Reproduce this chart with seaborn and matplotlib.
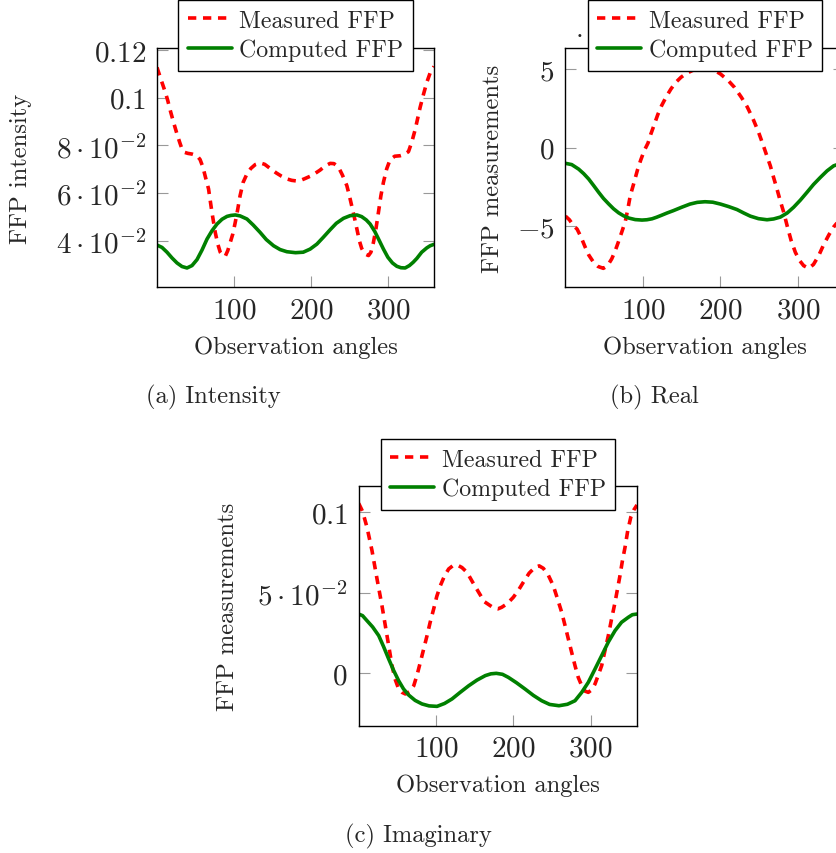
import matplotlib
matplotlib.use("Agg")
import matplotlib.pyplot as plt
import seaborn as sns

# ---------------- data ----------------
# (a) Intensity
a_meas_x = [0, 5, 10.8, 14, 17.3, 21.5, 26, 29.5, 32.5, 36, 40, 45.5, 52, 56, 59.7, 63, 67, 71.4,
            75.7, 79, 82.2, 85.5, 88.7, 92, 95.2, 98.5, 101.7, 105, 108, 112, 116.9, 122, 127.7,
            134, 140, 147, 155, 162, 168.8, 175, 182, 186, 192, 199, 205, 212, 218, 225, 230,
            235.9, 241, 246.7, 250, 253, 256.5, 259.8, 263, 266, 270, 274.9, 278, 281.3, 284.5,
            287.8, 291, 294.3, 298.5, 303, 309, 316, 321, 326.8, 331, 335.5, 342, 346.5, 350.6,
            355, 360]
a_meas_y = [0.1127, 0.1078, 0.1023, 0.0988, 0.0946, 0.0897, 0.0848, 0.0813, 0.0785, 0.0771,
            0.0767, 0.0764, 0.0757, 0.0741, 0.0709, 0.0667, 0.0618, 0.052, 0.0436, 0.0387, 0.0353,
            0.0339, 0.0336, 0.036, 0.0394, 0.0429, 0.0478, 0.0534, 0.059, 0.0646, 0.0681, 0.0704,
            0.072, 0.0727, 0.0721, 0.0704, 0.0685, 0.0671, 0.066, 0.0654, 0.0651, 0.0653, 0.0661,
            0.0671, 0.0682, 0.0697, 0.0713, 0.0725, 0.0724, 0.0709, 0.0676, 0.0632, 0.059, 0.0548,
            0.0499, 0.045, 0.0401, 0.0369, 0.0346, 0.0339, 0.0353, 0.0394, 0.045, 0.052, 0.059,
            0.0646, 0.0702, 0.0741, 0.0755, 0.0757, 0.0762, 0.0774, 0.0813, 0.0866, 0.096, 0.1016,
            0.1064, 0.1104, 0.1131]
a_comp_x = [0, 6.5, 13, 19.5, 26, 32.5, 39, 45.5, 52, 58.5, 65, 71.5, 78, 84.5, 91, 96, 101.7,
            108, 116.9, 125, 134, 142, 151.5, 160, 168.8, 180, 190, 199, 207.8, 216, 225, 233,
            242.4, 251, 259.8, 266, 272, 277, 283, 289, 294.3, 300, 306, 311.7, 317, 322.5, 328,
            333, 337.7, 344, 350.6, 355, 360]
a_comp_y = [0.0383, 0.0373, 0.0353, 0.0329, 0.0308, 0.0293, 0.0287, 0.0297, 0.0322, 0.0362,
            0.0408, 0.0443, 0.0471, 0.0491, 0.0503, 0.0507, 0.0509, 0.0505, 0.0492, 0.0467,
            0.0436, 0.0406, 0.038, 0.0364, 0.0355, 0.0351, 0.0353, 0.0366, 0.0387, 0.0415,
            0.0447, 0.0474, 0.0495, 0.0506, 0.0509, 0.0502, 0.0488, 0.0471, 0.044, 0.0401,
            0.0366, 0.0332, 0.0308, 0.0294, 0.0288, 0.0287, 0.0297, 0.0311, 0.0327, 0.0353,
            0.0371, 0.038, 0.0386]

# (b) Real
b_meas_x = [0, 5, 10, 15, 20, 25, 30, 36, 42, 48.8, 54, 59.6, 64, 68, 72.5, 77.2, 80.5, 83.6, 88,
            93, 97, 101.5, 106.5, 110, 114, 119, 124, 130, 136, 142, 149, 156, 164, 172, 180, 186,
            193, 200, 210, 218, 227, 234.5, 242, 249, 255.5, 260, 264.3, 268.5, 272.9, 277, 281.5,
            285.8, 291, 296.6, 302, 307.3, 313.8, 320, 326.7, 333, 340, 346, 353, 360]
b_meas_y = [-4.37, -4.6, -4.95, -5.2, -5.7, -6.3, -6.85, -7.3, -7.58, -7.70, -7.55, -7.1, -6.6,
            -6.05, -5.4, -4.7, -3.9, -3.06, -2.3, -1.4, -0.8, -0.2, 0.3, 0.85, 1.4, 2.1, 2.68, 3.25,
            3.74, 4.15, 4.49, 4.74, 4.93, 5.03, 5.06, 5.03, 4.91, 4.7, 4.28, 3.85, 3.21, 2.6, 1.83,
            1.0, 0.1, -0.55, -1.16, -1.9, -2.64, -3.38, -4.11, -4.95, -5.9, -6.68, -7.2, -7.53,
            -7.70, -7.45, -6.89, -6.2, -5.55, -5.06, -4.65, -4.37]
b_comp_x = [0, 8, 17, 23.5, 29.9, 36.5, 42.8, 49, 55.7, 62, 68.6, 75, 81.5, 90, 98.7, 105, 111.6,
            117.5, 123.6, 131, 139.1, 150, 160.6, 170, 180, 190, 200, 210.5, 221.3, 230, 238.5,
            249, 260, 268.5, 277.2, 286, 294.4, 303, 311.6, 320, 328.8, 337.5, 346, 353, 360]
b_comp_y = [-1.0, -1.08, -1.37, -1.66, -2.0, -2.43, -2.85, -3.24, -3.59, -3.9, -4.16, -4.35, -4.49,
            -4.59, -4.62, -4.6, -4.54, -4.44, -4.32, -4.17, -4.02, -3.8, -3.6, -3.49, -3.45, -3.48,
            -3.6, -3.76, -3.95, -4.17, -4.37, -4.53, -4.6, -4.55, -4.43, -4.17, -3.8, -3.35, -2.85,
            -2.35, -1.9, -1.48, -1.16, -1.04, -1.0]

# (c) Imaginary
c_meas_x = [0, 5, 10.7, 17.2, 23.7, 30.1, 36.6, 43.1, 47, 51.7, 56, 60.3, 65.5, 71.2, 75.5, 79.7,
            84, 88.4, 92.5, 97, 101, 105.6, 111, 116.4, 121.5, 127.2, 133.5, 140.1, 147.5, 155.2,
            162.5, 170.2, 175, 180, 185, 192, 200, 206.5, 212.9, 220.5, 228, 233.5, 238.8, 245,
            251.7, 257, 262.6, 267, 271.2, 275.5, 279.8, 284, 288.5, 292.5, 297, 301.5, 305.7, 310,
            314.3, 318.5, 322.9, 327, 331.6, 338, 341, 344.5, 348, 352, 356, 360]
c_meas_y = [0.1055, 0.1005, 0.0907, 0.0762, 0.0586, 0.042, 0.0234, 0.0048, -0.0035, -0.0097,
            -0.0118, -0.0128, -0.0115, -0.0077, -0.001, 0.0068, 0.015, 0.0234, 0.0318, 0.04, 0.0478,
            0.0544, 0.0605, 0.0648, 0.0667, 0.0673, 0.0657, 0.0627, 0.0565, 0.0503, 0.0445, 0.042,
            0.0405, 0.040, 0.041, 0.0432, 0.0472, 0.0515, 0.0565, 0.0622, 0.0658, 0.0667, 0.0652,
            0.0612, 0.0544, 0.0465, 0.0379, 0.0295, 0.0213, 0.013, 0.0048, -0.0025, -0.0077,
            -0.011, -0.0118, -0.0102, -0.0066, -0.001, 0.0048, 0.014, 0.0234, 0.0335, 0.0441,
            0.0607, 0.0695, 0.0782, 0.0885, 0.097, 0.1015, 0.1045]
c_comp_x = [0, 5, 10.7, 18, 25.9, 32, 38.8, 45, 51.7, 58, 64.7, 73, 81.9, 91, 101.3, 111, 120.7,
            131, 142.3, 153, 163.8, 171, 178, 186, 193.6, 204, 215.1, 226, 236.7, 247, 259, 270,
            279.8, 288.5, 297, 305.5, 314.3, 323, 331.6, 340, 348.8, 354, 360]
c_comp_y = [0.0368, 0.0358, 0.0327, 0.0288, 0.0234, 0.0168, 0.0089, 0.002, -0.0046, -0.0097,
            -0.0135, -0.0168, -0.019, -0.0202, -0.0205, -0.0187, -0.0159, -0.0119, -0.0077,
            -0.0042, -0.0014, -0.0003, 0.0, -0.0006, -0.0025, -0.0058, -0.0097, -0.0137, -0.017,
            -0.0193, -0.0201, -0.0192, -0.017, -0.0118, -0.0056, 0.0025, 0.011, 0.0195, 0.0265,
            0.0317, 0.0348, 0.0364, 0.0368]

series_labels = ["Measured FFP", "Computed FFP"]
x_ticks = [100, 200, 300]
a_yticks = [0.04, 0.06, 0.08, 0.10, 0.12]
a_yticklabels = [r"$4\cdot10^{-2}$", r"$6\cdot10^{-2}$", r"$8\cdot10^{-2}$", r"$0.1$", r"$0.12$"]
b_yticks = [-5, 0, 5]
b_yticklabels = [r"$-5$", r"$0$", r"$5$"]
c_yticks = [0, 0.05, 0.1]
c_yticklabels = [r"$0$", r"$5\cdot10^{-2}$", r"$0.1$"]
x_label = "Observation angles"
captions = ["(a) Intensity", "(b) Real", "(c) Imaginary"]

# ---------------- style ----------------
sns.set_style("ticks")
plt.rcParams.update({
    "font.family": "serif",
    "font.serif": ["cmr10", "DejaVu Serif"],
    "mathtext.fontset": "cm",
    "axes.unicode_minus": False,
})

W, H = 837, 854
fig = plt.figure(figsize=(W / 100, H / 100), dpi=100)
TXT = 17.7
LEG = 17.2


def frac_box(l, t, r, b):
    return [l / W, 1 - b / H, (r - l) / W, (b - t) / H]


panels = [
    dict(box=frac_box(157, 49.3, 434, 288.3), meas=(a_meas_x, a_meas_y), comp=(a_comp_x, a_comp_y),
         ylim=(0.0206, 0.1207), yt=a_yticks, ytl=a_yticklabels, ylabel="FFP intensity",
         ylab_x=-0.45, leg=(295.5, 1)),
    dict(box=frac_box(565.5, 49.3, 844.5, 288.3), meas=(b_meas_x, b_meas_y), comp=(b_comp_x, b_comp_y),
         ylim=(-8.91, 6.34), yt=b_yticks, ytl=b_yticklabels, ylabel="FFP measurements",
         ylab_x=-0.22, leg=(705, 1)),
    dict(box=frac_box(358.7, 487.3, 637, 726.7), meas=(c_meas_x, c_meas_y), comp=(c_comp_x, c_comp_y),
         ylim=(-0.0325, 0.1161), yt=c_yticks, ytl=c_yticklabels, ylabel="FFP measurements",
         ylab_x=-0.43, leg=(498, 440)),
]

lw = 2.6
for p in panels:
    ax = fig.add_axes(p["box"])
    sns.lineplot(x=p["meas"][0], y=p["meas"][1], ax=ax, color="#ff0000", linewidth=lw,
                 label=series_labels[0], sort=False, errorbar=None)
    ax.lines[-1].set_dashes([2.3, 1.85])
    sns.lineplot(x=p["comp"][0], y=p["comp"][1], ax=ax, color="#008000", linewidth=lw,
                 label=series_labels[1], sort=False, errorbar=None)
    for ln in ax.lines:
        ln.set_solid_joinstyle("round")
        ln.set_dash_joinstyle("round")
    ax.set_xlim(0, 360)
    ax.set_ylim(*p["ylim"])
    ax.set_xticks(x_ticks)
    ax.set_xticklabels([rf"${t}$" for t in x_ticks])
    ax.set_yticks(p["yt"])
    ax.set_yticklabels(p["ytl"])
    ax.tick_params(axis="both", which="major", direction="in", length=7.8, width=0.8,
                   color="#999999", labelsize=21, pad=7, top=True, right=True)
    ax.tick_params(axis="y", pad=8)
    for s in ax.spines.values():
        s.set_color("black")
        s.set_linewidth(1.0)
        s.set_visible(True)
    ax.set_xlabel(x_label, fontsize=TXT)
    ax.set_ylabel(p["ylabel"], fontsize=TXT)
    ax.xaxis.set_label_coords(0.5, -0.2)
    ax.yaxis.set_label_coords(p["ylab_x"], 0.5)
    leg = ax.legend(loc="upper center", bbox_to_anchor=(p["leg"][0] / W, 1 - p["leg"][1] / H),
                    bbox_transform=fig.transFigure, fontsize=LEG, frameon=True, fancybox=False,
                    framealpha=1, edgecolor="black", borderpad=0.4, labelspacing=0.3,
                    handlelength=1.85, handletextpad=0.3, borderaxespad=0)
    leg.get_frame().set_linewidth(1.0)

fig.text(579 / W, 1 - 33 / H, r"$\cdot$", ha="center", va="center", fontsize=20)

fig.text(213 / W, 1 - 403.5 / H, captions[0], ha="center", va="baseline", fontsize=TXT)
fig.text(654 / W, 1 - 403.5 / H, captions[1], ha="center", va="baseline", fontsize=TXT)
fig.text(418 / W, 1 - 842 / H, captions[2], ha="center", va="baseline", fontsize=TXT)

fig.savefig("out.png", dpi=100)
